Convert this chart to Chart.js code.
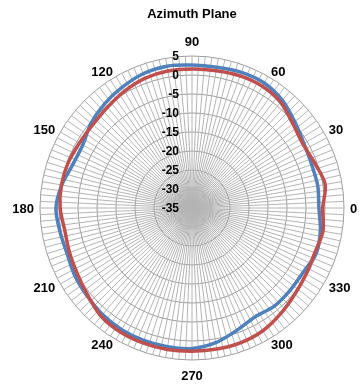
<!DOCTYPE html>
<html>
<head>
<meta charset="utf-8">
<script src="https://cdn.jsdelivr.net/npm/chart.js@4.4.1/dist/chart.umd.min.js"></script>
<style>
  html, body { margin: 0; padding: 0; background: #fff; }
  #wrap { width: 362px; height: 385px; }
</style>
</head>
<body>
<div id="wrap"><canvas id="azimuthChart"></canvas></div>
<script>
// ===== DATA =====
const chartTitle = "Azimuth Plane";
const spokeStep = 2.5;      // one category (spoke) every 2.5 degrees
const labelStep = 30;       // angle label every 30 degrees

const sampleAngles = [0, 10, 20, 30, 40, 50, 60, 70, 80, 90, 100, 110,
  120, 130, 140, 150, 160, 170, 180, 190, 200, 210, 220, 230,
  240, 250, 260, 270, 280, 290, 300, 310, 320, 330, 340, 350];
const blueGain = [-1.6, -1.4, -1.5, -1.0, 0.3, 2.0, 3.0, 3.0, 2.6, 2.6, 2.9, 2.6,
  1.7, 0.8, -0.3, -1.8, -1.6, -0.2, 0.8, 0.3, 0.0, 0.6, 1.0, 1.6,
  2.0, 2.1, 2.1, 2.0, 1.0, -0.7, -1.9, -1.3, -1.3, -1.2, -0.2, -0.7];
const redGain = [-0.6, 0.6, -0.6, -1.3, -0.4, 1.3, 2.0, 2.0, 1.7, 1.6, 1.6, 1.3,
  0.5, -0.4, -0.9, -0.8, -0.3, -0.1, -0.3, -1.0, -0.7, -0.2, 0.8, 2.2,
  2.7, 2.8, 2.8, 2.7, 2.7, 2.7, 2.3, 1.3, 0.3, -0.3, -0.6, 0.0];

const tickValues = [5, 0, -5, -10, -15, -20, -25, -30, -35];

// ===== CATEGORIES (counter clockwise, 0 at the right) =====
let angles = [];
for (let a = 0; a < 360; a += spokeStep) angles.push(a);
const ordered = [angles[0]].concat(angles.slice(1).reverse());

function seriesFor(values) {
  return ordered.map(a => {
    const i = sampleAngles.indexOf(a);
    return i >= 0 ? values[i] : null;
  });
}

// ===== PLUGIN: title, angle labels and tick labels, Excel style =====
const excelText = {
  id: "excelText",
  afterDatasetsDraw(chart) {
    const r = chart.scales.r;
    const ctx = chart.ctx;
    ctx.save();
    ctx.fillStyle = "#000";

    // value labels left of the vertical axis
    ctx.font = 'bold 12px "Liberation Sans"';
    ctx.textAlign = "right";
    ctx.textBaseline = "middle";
    tickValues.forEach(v => {
      const d = r.getDistanceFromCenterForValue(v);
      ctx.fillText(String(v), r.xCenter - 13, r.yCenter - d + 1);
    });

    // angle labels
    ctx.font = 'bold 13px "Liberation Sans"';
    ordered.forEach((a, i) => {
      if (a % labelStep !== 0) return;
      const p = r.getPointPosition(i, r.drawingArea + 6);
      const dx = p.x - r.xCenter;
      const dy = p.y - r.yCenter;
      const len = Math.hypot(dx, dy);
      let y = p.y;
      if (Math.abs(dx) / len < 0.1) {
        ctx.textAlign = "center";
        y += (dy < 0 ? -9 : 9);
      } else {
        ctx.textAlign = dx > 0 ? "left" : "right";
      }
      ctx.fillText(String(a), p.x, y + 1);
    });

    ctx.textAlign = "center";
    ctx.fillText(chartTitle, r.xCenter, 14);
    ctx.restore();
  }
};

const ctx = document.getElementById("azimuthChart").getContext("2d");
new Chart(ctx, {
  type: "radar",
  data: {
    labels: ordered,
    datasets: [
      {
        label: "Red",
        data: seriesFor(redGain),
        borderColor: "#c0504d",
        borderWidth: 3.5,
        fill: false,
        pointRadius: 0,
        spanGaps: true,
        tension: 0.3
      },
      {
        label: "Blue",
        data: seriesFor(blueGain),
        borderColor: "#4f81bd",
        borderWidth: 3.5,
        fill: false,
        pointRadius: 0,
        spanGaps: true,
        tension: 0.3
      }
    ]
  },
  options: {
    responsive: true,
    maintainAspectRatio: false,
    animation: false,
    layout: { padding: { top: 56, bottom: 25, left: 40, right: 18 } },
    plugins: {
      legend: { display: false },
      tooltip: { enabled: false },
      title: { display: false }
    },
    scales: {
      r: {
        min: -35,
        max: 5,
        startAngle: 90,
        ticks: { stepSize: 5, display: false },
        grid: { circular: true, color: "#9c9c9c", lineWidth: 1 },
        angleLines: { color: "#b4b4b4", lineWidth: 1 },
        pointLabels: { display: false }
      }
    }
  },
  plugins: [excelText]
});
</script>
</body>
</html>
